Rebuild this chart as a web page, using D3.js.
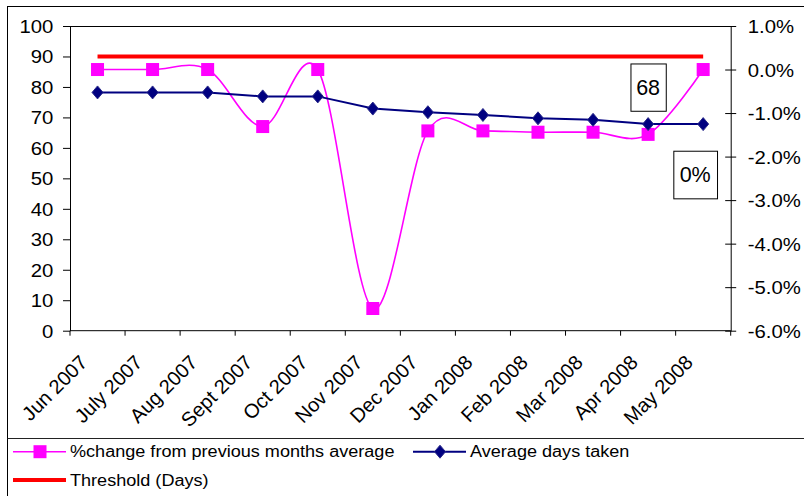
<!DOCTYPE html>
<html>
<head>
<meta charset="utf-8">
<script src="https://cdn.jsdelivr.net/npm/d3@7"></script>
<style>
  html, body { margin: 0; padding: 0; background: #fff; }
  svg { display: block; font-family: "Liberation Sans", Arial, sans-serif; }
</style>
</head>
<body>
<svg id="chart" width="804" height="496"></svg>
<script>
// ---- data ----
const categories = ["Jun 2007","July 2007","Aug 2007","Sept 2007","Oct 2007","Nov 2007",
                    "Dec 2007","Jan 2008","Feb 2008","Mar 2008","Apr 2008","May 2008"];
const avgDays   = [78.2, 78.2, 78.2, 76.9, 76.9, 72.9, 71.7, 70.8, 69.7, 69.2, 67.8, 67.8];
const pctChange = [0, 0, 0, -1.31, 0, -5.49, -1.41, -1.41, -1.44, -1.44, -1.49, 0];
const threshold = [90, 90, 90, 90, 90, 90, 90, 90, 90, 90, 90, 90];
const leftTicks  = [0, 10, 20, 30, 40, 50, 60, 70, 80, 90, 100];
const rightTicks = [1, 0, -1, -2, -3, -4, -5, -6];
const labelAvg = "68";
const labelPct = "0%";
const seriesNames = ["%change from previous months average", "Average days taken", "Threshold (Days)"];

// ---- layout ----
const SX = 1.13;            // horizontal stretch of the original picture's text
const svg = d3.select("#chart");
const plot = {left: 70, right: 730.7, top: 26, bottom: 330.7};

const x = d3.scaleBand().domain(categories).range([plot.left, plot.right]).padding(0);
const cx = c => x(c) + x.bandwidth() / 2;
const yL = d3.scaleLinear().domain([0, 100]).range([plot.bottom, plot.top]);
const yR = d3.scaleLinear().domain([-6, 1]).range([plot.bottom, plot.top]);

// outer frame
svg.append("rect").attr("x", 7.5).attr("y", 6.5).attr("width", 1000).attr("height", 1000)
  .attr("fill", "none").attr("stroke", "#000").attr("stroke-width", 1);
// legend separator
svg.append("line").attr("x1", 7.5).attr("x2", 804).attr("y1", 438.5).attr("y2", 438.5)
  .attr("stroke", "#222").attr("stroke-width", 1);

// plot top border
svg.append("line").attr("x1", plot.left).attr("x2", plot.right)
  .attr("y1", plot.top + 0.5).attr("y2", plot.top + 0.5).attr("stroke", "#000");

// left axis
const gL = svg.append("g").attr("transform", `translate(${plot.left},0)`)
  .call(d3.axisLeft(yL).tickValues(leftTicks).tickSize(7).tickSizeOuter(0).tickFormat(d => String(d)));
gL.select(".domain").attr("stroke", "#000");
gL.selectAll(".tick line").attr("stroke", "#000");
gL.selectAll(".tick text").attr("x", 0).attr("dy", "0.36em")
  .attr("transform", `translate(-16.7,0) scale(${SX},1)`)
  .attr("font-size", 18).attr("fill", "#000").attr("text-anchor", "end")
  .attr("font-family", "Liberation Sans, Arial, sans-serif");

// right axis
const gR = svg.append("g").attr("transform", `translate(${plot.right},0)`)
  .call(d3.axisRight(yR).tickValues(rightTicks).tickSize(6).tickSizeOuter(0)
    .tickFormat(d => d.toFixed(1) + "%"));
gR.select(".domain").attr("stroke", "#000");
gR.selectAll(".tick line").attr("stroke", "#000").attr("x1", -5.5).attr("x2", 5.5);
gR.selectAll(".tick text").attr("x", 0).attr("dy", "0.36em")
  .attr("transform", `translate(17,0) scale(${SX},1)`)
  .attr("font-size", 18).attr("fill", "#000").attr("text-anchor", "start")
  .attr("font-family", "Liberation Sans, Arial, sans-serif");

// bottom axis
svg.append("line").attr("x1", plot.left).attr("x2", plot.right)
  .attr("y1", plot.bottom).attr("y2", plot.bottom).attr("stroke", "#000");
const boundaries = categories.map(c => x(c)).concat([x.range()[1]]);
svg.append("g").selectAll("line").data(boundaries).join("line")
  .attr("x1", d => d).attr("x2", d => d)
  .attr("y1", plot.bottom).attr("y2", plot.bottom + 5).attr("stroke", "#000");
svg.append("g").selectAll("g").data(categories).join("g")
  .attr("transform", d => `translate(${cx(d) - 9},${plot.bottom + 33}) rotate(-45)`)
  .append("text").attr("text-anchor", "end").attr("font-size", 20).attr("fill", "#000")
  .text(d => d);

// threshold line
svg.append("line")
  .attr("x1", cx(categories[0])).attr("x2", cx(categories[categories.length - 1]))
  .attr("y1", yL(threshold[0])).attr("y2", yL(threshold[threshold.length - 1]))
  .attr("stroke", "#FF0000").attr("stroke-width", 4);

// % change (right axis), smoothed
const pctPts = categories.map((c, i) => [cx(c), yR(pctChange[i])]);
svg.append("path").attr("d", d3.line().curve(d3.curveCardinal.tension(0))(pctPts))
  .attr("fill", "none").attr("stroke", "#FF00FF").attr("stroke-width", 1.6);

// average days
const avgPts = categories.map((c, i) => [cx(c), yL(avgDays[i])]);
svg.append("path").attr("d", d3.line()(avgPts))
  .attr("fill", "none").attr("stroke", "#000080").attr("stroke-width", 2);

// markers
svg.append("g").selectAll("rect").data(pctPts).join("rect")
  .attr("x", d => d[0] - 6.5).attr("y", d => d[1] - 6.5)
  .attr("width", 13).attr("height", 13).attr("fill", "#FF00FF");
const diamond = "M0,-6.5L5.5,0L0,6.5L-5.5,0Z";
svg.append("g").selectAll("path").data(avgPts).join("path")
  .attr("transform", d => `translate(${d[0]},${d[1]})`)
  .attr("d", diamond).attr("fill", "#000080").attr("stroke", "#2a2a8a").attr("stroke-width", 1);

// data label boxes
function boxLabel(cxp, cyp, w, h, txt) {
  const g = svg.append("g").attr("transform", `translate(${cxp},${cyp})`);
  g.append("rect").attr("x", -w / 2 + 0.5).attr("y", -h / 2 + 0.5).attr("width", w).attr("height", h)
    .attr("fill", "#fff").attr("stroke", "#000").attr("stroke-width", 1);
  g.append("text").attr("text-anchor", "middle").attr("dy", "0.36em")
    .attr("font-size", 21.5).attr("fill", "#000").text(txt);
}
boxLabel(cx(categories[10]), yL(avgDays[10]) - 37, 35.3, 47.3, labelAvg);
boxLabel(cx(categories[11]) - 8, yR(pctChange[11]) + 105, 43.7, 47.6, labelPct);

// legend
const legend = svg.append("g");
function legendItem(x0, yc, color, sw, marker, label) {
  legend.append("line").attr("x1", x0).attr("x2", x0 + 53).attr("y1", yc).attr("y2", yc)
    .attr("stroke", color).attr("stroke-width", sw);
  const mx = x0 + 27;
  if (marker === "square") {
    legend.append("rect").attr("x", mx - 6.5).attr("y", yc - 6.5).attr("width", 13).attr("height", 13)
      .attr("fill", color);
  } else if (marker === "diamond") {
    legend.append("path").attr("transform", `translate(${mx},${yc})`).attr("d", diamond)
      .attr("fill", color).attr("stroke", "#2a2a8a");
  }
  legend.append("g").attr("transform", `translate(${x0 + 57},${yc}) scale(${SX},1)`)
    .append("text").attr("dy", "0.36em").attr("font-size", 16).attr("fill", "#000").text(label);
}
legendItem(13, 451.7, "#FF00FF", 1.6, "square", seriesNames[0]);
legendItem(413, 451.7, "#000080", 2, "diamond", seriesNames[1]);
legendItem(13, 480, "#FF0000", 4, null, seriesNames[2]);
</script>
</body>
</html>
